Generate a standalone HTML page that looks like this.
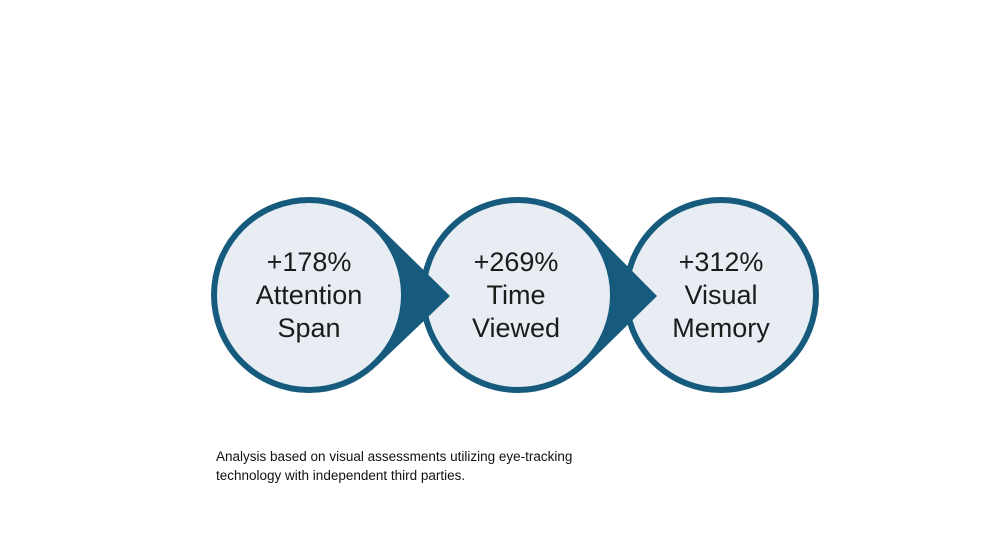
<!DOCTYPE html>
<html><head><meta charset="utf-8"><style>
html,body{margin:0;padding:0;background:#fff;}
body{width:990px;height:557px;position:relative;overflow:hidden;}
svg{position:absolute;left:0;top:0;}
.cap{position:absolute;left:216px;top:447px;font-family:"Liberation Sans",sans-serif;font-size:13.5px;line-height:19px;color:#111;}
</style></head><body>
<svg width="990" height="557" viewBox="0 0 990 557">
<g stroke="#165b7e" stroke-width="6">
<circle cx="721" cy="295" r="95" fill="#e7edf3"/>
<polygon points="518,295 585.6,224 657,296 585.6,366" fill="#165b7e" stroke="none"/>
<circle cx="518" cy="295" r="95" fill="#e7edf3"/>
<polygon points="309,295 376.6,224 450,296 376.6,366" fill="#165b7e" stroke="none"/>
<circle cx="309" cy="295" r="95" fill="#e7edf3"/>
</g>
<g font-family="Liberation Sans, sans-serif" font-size="27" fill="#1b1b1b" text-anchor="middle">
<text x="309" y="271">+178%</text><text x="309" y="304">Attention</text><text x="309" y="337">Span</text>
<text x="516" y="271">+269%</text><text x="516" y="304">Time</text><text x="516" y="337">Viewed</text>
<text x="721" y="271">+312%</text><text x="721" y="304">Visual</text><text x="721" y="337">Memory</text>
</g>
</svg>
<div class="cap">Analysis based on visual assessments utilizing eye-tracking<br>technology with independent third parties.</div>
</body></html>
